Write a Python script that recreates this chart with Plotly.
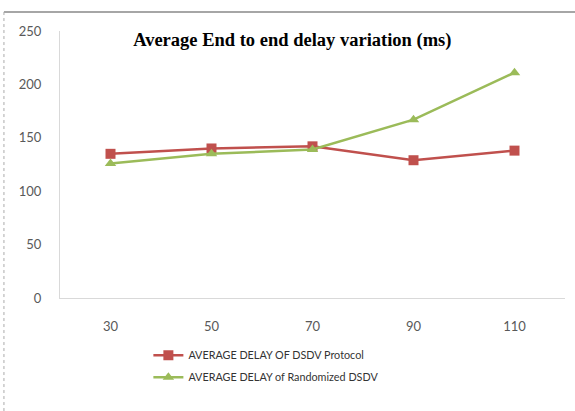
import plotly.graph_objects as go

categories = ["30", "50", "70", "90", "110"]
dsdv = [135, 140, 142, 129, 138]
randomized = [126, 135, 139, 167, 211]
y_ticks = [0, 50, 100, 150, 200, 250]

fig = go.Figure()
fig.add_trace(go.Scatter(
    x=categories, y=dsdv, mode="lines+markers",
    name="AVERAGE DELAY OF DSDV Protocol", legendgroup="a",
    line=dict(color="#C0504D", width=2.5),
    marker=dict(symbol="square", size=10, color="#C0504D"),
))
fig.add_trace(go.Scatter(
    x=categories, y=randomized, mode="lines+markers",
    name="AVERAGE DELAY of Randomized DSDV", legendgroup="b",
    line=dict(color="#9BBB59", width=2.5),
    marker=dict(symbol="triangle-up", size=10, color="#9BBB59"),
))

fig.update_layout(
    width=575, height=411,
    margin=dict(l=60, r=10, t=31, b=113, autoexpand=False),
    paper_bgcolor="white", plot_bgcolor="white",
    font=dict(family="Lato, Calibri, sans-serif", size=12, color="#595959"),
    title=dict(
        text="<b>Average End to end delay variation (ms)</b>",
        font=dict(family="Liberation Serif, Times New Roman, serif", size=18.5, color="black"),
        x=0.46, xanchor="center", y=0.903, yanchor="middle", xref="paper", yref="container",
    ),
    xaxis=dict(
        type="category", range=[-0.5, 4.5], showgrid=False, automargin=False,
        showline=True, linecolor="#D9D9D9", linewidth=1,
        ticks="", tickfont=dict(size=13, color="#595959"), ticklabelstandoff=16,
    ),
    yaxis=dict(
        range=[0, 250], tickvals=y_ticks, showgrid=False, automargin=False,
        showline=True, linecolor="#D9D9D9", linewidth=1,
        ticks="", zeroline=False, tickfont=dict(size=13, color="#595959"),
        ticklabelstandoff=15,
    ),
    legend=dict(
        x=0.175, y=-0.16, xanchor="left", yanchor="top",
        font=dict(size=10.8, color="#333333"), tracegroupgap=3, itemwidth=30,
        bgcolor="rgba(0,0,0,0)",
    ),
    shapes=[
        dict(type="line", xref="paper", yref="paper", x0=-0.111, x1=1.03, y0=1.071, y1=1.071,
             line=dict(color="#888888", width=1.5)),
        dict(type="line", xref="paper", yref="paper", x0=-0.111, x1=-0.111, y0=1.071, y1=-0.45,
             line=dict(color="#AAAAAA", width=1, dash="dot")),
    ],
)

fig.write_html("out.html", config={"displayModeBar": False},
               post_script="document.body.style.margin='0';")
